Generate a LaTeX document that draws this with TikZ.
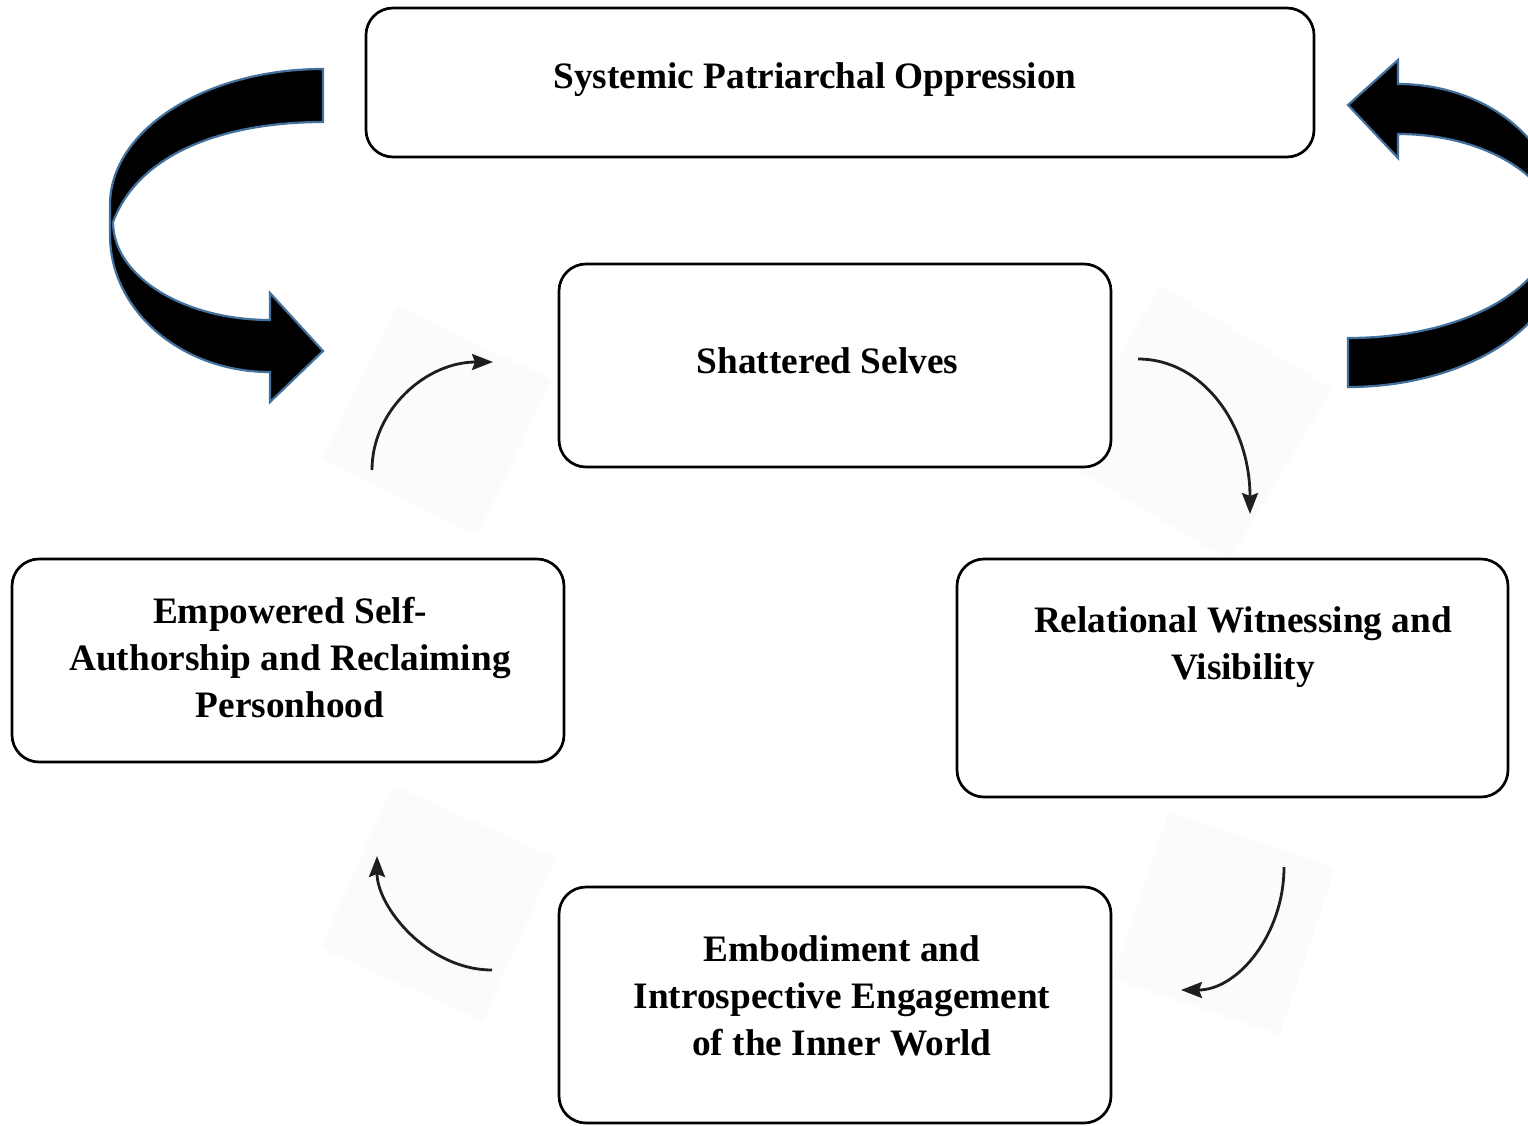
\documentclass[tikz,border=0pt]{standalone}
\usepackage{fontspec}
\setmainfont{Liberation Serif}
\usetikzlibrary{arrows.meta}
\definecolor{arrowblue}{RGB}{65,113,156}
\definecolor{arrowdark}{RGB}{30,30,30}
\definecolor{faintgray}{RGB}{251,251,251}
\tikzset{
  stagebox/.style={draw=black, line width=2.7pt, rounded corners=27pt, inner sep=0pt, fill=white},
  stagetext/.style={font=\fontsize{37.3}{47}\selectfont\bfseries, align=center, inner sep=0pt, anchor=north},
  bigarrow/.style={fill=black, draw=arrowblue, line width=2.2pt, line join=miter},
  smallarrow/.style={draw=arrowdark, line width=2.8pt, -{Stealth[length=21pt,width=16pt,inset=3pt]}},
  faint/.style={fill=faintgray, draw=none}
}
\begin{document}
\begin{tikzpicture}[x=1pt,y=-1pt]
\useasboundingbox (0,0) rectangle (1528,1125);
\clip (0,0) rectangle (1528,1125);
\fill[white] (0,0) rectangle (1528,1125);

% faint backgrounds behind small arrows
\fill[faint, rotate around={-26:(437,420)}] (351,334) rectangle (523,506);
\fill[faint, rotate around={-31:(1195,423)}] (1095,323) rectangle (1295,523);
\fill[faint, rotate around={-24:(438,903)}] (349,814) rectangle (527,992);
\fill[faint, rotate around={-18.5:(1224,923)}] (1136,835) rectangle (1312,1011);

% big curved arrows
\path[bigarrow] (323,69) .. controls (205,69) and (110,130) .. (110,205)
  -- (110,235) .. controls (110,311) and (182,372) .. (270,372)
  -- (270,402) -- (323,351) -- (270,293) -- (270,320)
  .. controls (183,320) and (113,276) .. (113,222)
  .. controls (140,150) and (230,122) .. (323,122) -- cycle;
\begin{scope}[shift={(1671,456)}, rotate=180]
\path[bigarrow] (323,69) .. controls (205,69) and (110,130) .. (110,205)
  -- (110,235) .. controls (110,311) and (182,372) .. (273,372)
  -- (273,396) -- (323,351) -- (273,298) -- (273,322)
  .. controls (183,322) and (113,276) .. (113,222)
  .. controls (140,150) and (230,118) .. (323,118) -- cycle;
\end{scope}

% boxes
\node[stagebox, minimum width=948pt, minimum height=149pt] (spo) at (840,82.5) {};
\node[stagebox, minimum width=552pt, minimum height=203pt] (ss) at (835,365.5) {};
\node[stagebox, minimum width=552pt, minimum height=203pt] (esa) at (288,660.5) {};
\node[stagebox, minimum width=551pt, minimum height=238pt] (rwv) at (1232.5,678) {};
\node[stagebox, minimum width=552pt, minimum height=236pt] (eie) at (835,1005) {};

% texts
\node[stagetext] (spot) at (815,62) {Systemic Patriarchal Oppression};
\node[stagetext] (sst) at (827.5,347) {Shattered Selves};
\node[stagetext] (esat) at (290,597) {Empowered Self-\\Authorship and Reclaiming\\Personhood};
\node[stagetext] (rwvt) at (1243,606) {Relational Witnessing and\\Visibility};
\node[stagetext] (eiet) at (842,935) {Embodiment and\\Introspective Engagement\\of the Inner World};

% small curved arrows
\coordinate (a1s) at (372,470); \coordinate (a1e) at (493,362);
\coordinate (a2s) at (1138,359); \coordinate (a2e) at (1250,514);
\coordinate (a3s) at (1284,867); \coordinate (a3e) at (1181,990);
\coordinate (a4s) at (492,970); \coordinate (a4e) at (377,856);
\draw[smallarrow] (a1s) .. controls (372,410) and (426,362) .. (a1e);
\draw[smallarrow] (a2s) .. controls (1203,359) and (1250,425) .. (a2e);
\draw[smallarrow] (a3s) .. controls (1284,934) and (1238,990) .. (a3e);
\draw[smallarrow] (a4s) .. controls (428,970) and (377,907) .. (a4e);
\end{tikzpicture}
\end{document}
